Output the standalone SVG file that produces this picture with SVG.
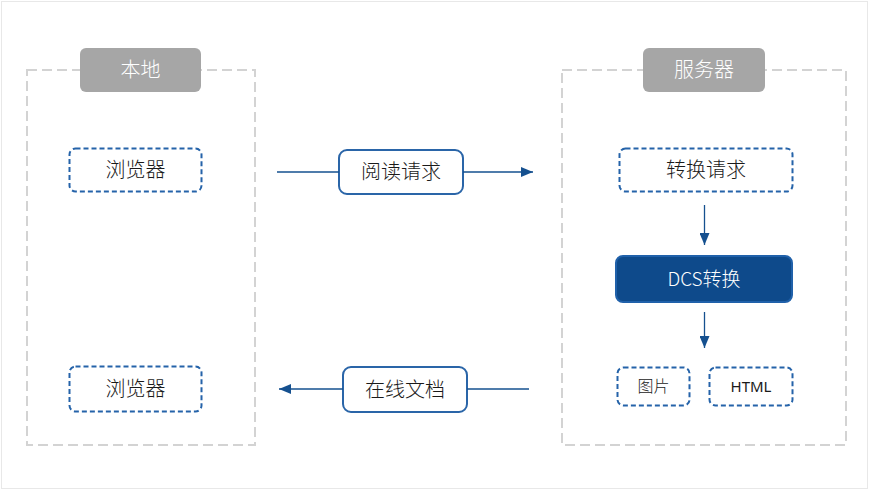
<svg xmlns="http://www.w3.org/2000/svg" width="870" height="491" viewBox="0 0 870 491">
<defs>
<marker id="ah" viewBox="0 0 12 10" refX="12" refY="5" markerWidth="12" markerHeight="10" markerUnits="userSpaceOnUse" orient="auto">
<path d="M0,0 L12,5 L0,10 Z" fill="#15508f"/>
</marker>
</defs>
<style>
.cn{font-family:"Noto Sans CJK SC","Noto Sans",sans-serif;font-weight:300;}
.lat{font-family:"Noto Sans","Liberation Sans",sans-serif;}
.container{fill:none;stroke:#d3d3d3;stroke-width:2;stroke-dasharray:10,5;}
.tag{fill:#a6a6a6;}
.tagt{fill:#ffffff;font-size:20px;}
.dash{fill:#ffffff;stroke:#2563a9;stroke-width:2;stroke-dasharray:5,3;}
.solid{fill:#ffffff;stroke:#2a65a8;stroke-width:2;}
.dark{fill:#0e4a8b;stroke:#2061aa;stroke-width:2;}
.t{fill:#1a1a1a;font-size:20px;}
.conn{fill:none;stroke:#15508f;stroke-width:1.3;}
</style>
<rect x="1.5" y="1.5" width="866" height="487" fill="#ffffff" stroke="#e8e8e8" stroke-width="1"/>

<g id="local">
<rect class="container" x="27" y="70" width="228" height="375"/>
<rect class="tag" x="80" y="48" width="121" height="44" rx="6"/>
<text class="cn tagt" x="140.5" y="77" text-anchor="middle">本地</text>
</g>

<g id="server">
<rect class="container" x="562" y="70" width="284" height="375"/>
<rect class="tag" x="643" y="48" width="122" height="44" rx="6"/>
<text class="cn tagt" x="704" y="77" text-anchor="middle">服务器</text>
</g>

<g id="browser-top">
<rect class="dash" x="69.5" y="148.5" width="132" height="43" rx="6"/>
<text class="cn t" x="135.5" y="177" text-anchor="middle">浏览器</text>
</g>

<g id="browser-bottom">
<rect class="dash" x="69.5" y="366.5" width="132" height="45" rx="6"/>
<text class="cn t" x="135.5" y="396" text-anchor="middle">浏览器</text>
</g>

<g id="read-request">
<rect class="solid" x="339" y="150" width="124" height="44" rx="8"/>
<text class="cn t" x="401" y="179" text-anchor="middle">阅读请求</text>
</g>

<g id="online-doc">
<rect class="solid" x="343" y="367" width="124" height="45" rx="8"/>
<text class="cn t" x="405" y="396.5" text-anchor="middle">在线文档</text>
</g>

<g id="convert-request">
<rect class="dash" x="619.5" y="148.5" width="173" height="43" rx="6"/>
<text class="cn t" x="706" y="177" text-anchor="middle">转换请求</text>
</g>

<g id="dcs">
<rect class="dark" x="616" y="256" width="176" height="46" rx="7"/>
<text class="cn" x="704" y="286" text-anchor="middle" font-size="19" fill="#ffffff">DCS转换</text>
</g>

<g id="image">
<rect class="dash" x="617.5" y="367.5" width="72" height="38" rx="6"/>
<text class="cn" x="653.5" y="392" text-anchor="middle" font-size="16" fill="#1a1a1a">图片</text>
</g>

<g id="html">
<rect class="dash" x="709.5" y="367.5" width="83" height="38" rx="6"/>
<text class="lat" x="751" y="392" text-anchor="middle" font-size="15" fill="#1a1a1a">HTML</text>
</g>

<g id="connectors">
<line class="conn" x1="277" y1="172" x2="339" y2="172"/>
<line class="conn" x1="463" y1="172" x2="533" y2="172" marker-end="url(#ah)"/>
<line class="conn" x1="529" y1="389" x2="467" y2="389"/>
<line class="conn" x1="343" y1="389" x2="279" y2="389" marker-end="url(#ah)"/>
<line class="conn" x1="704.5" y1="205" x2="704.5" y2="245" marker-end="url(#ah)"/>
<line class="conn" x1="704.5" y1="312" x2="704.5" y2="348" marker-end="url(#ah)"/>
</g>
</svg>
